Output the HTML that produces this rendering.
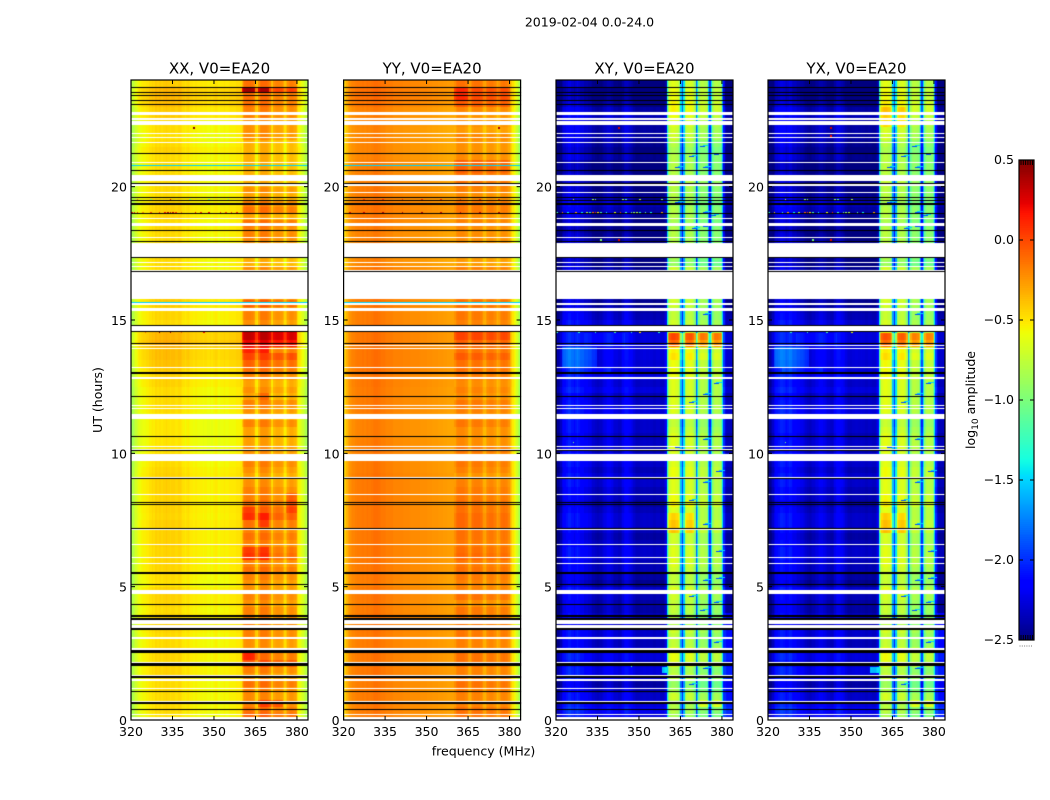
<!DOCTYPE html>
<html>
<head>
<meta charset="utf-8">
<title>2019-02-04 0.0-24.0</title>
<style>
html,body{margin:0;padding:0;background:#fff;}
#chart-root{position:relative;width:1050px;height:800px;overflow:hidden;background:#fff;}
#heatmap-canvas{position:absolute;left:0;top:0;}
#axes-svg{position:absolute;left:0;top:0;}
text{font-family:"DejaVu Sans","Liberation Sans",sans-serif;fill:#000;}
</style>
</head>
<body>
<div id="chart-root">
<canvas id="heatmap-canvas" width="1050" height="800"></canvas>
<svg id="axes-svg" width="1050" height="800" xmlns="http://www.w3.org/2000/svg">
<text x="589.5" y="26.5" font-size="12.55" text-anchor="middle">2019-02-04 0.0-24.0</text>
<text x="483.5" y="755.5" font-size="12.55" text-anchor="middle">frequency (MHz)</text>
<text x="0" y="0" font-size="12.55" text-anchor="middle" transform="translate(102,400) rotate(-90)">UT (hours)</text>
<text x="0" y="0" font-size="12.55" text-anchor="middle" transform="translate(975,400) rotate(-90)">log<tspan font-size="9" dy="3">10</tspan><tspan dy="-3"> amplitude</tspan></text>
</svg>
</div>
<script>
// ---------- chart data ----------
const freqTicks = [320, 335, 350, 365, 380];
const hourTicks = [0, 5, 10, 15, 20];
const colorTicks = [0.5, 0.0, -0.5, -1.0, -1.5, -2.0, -2.5];
const panelTitles = ["XX, V0=EA20", "YY, V0=EA20", "XY, V0=EA20", "YX, V0=EA20"];

// log10 amplitude per 0.5 MHz channel (320..383.5 MHz)
const xxProfile = [
-.88,-.82,-.76,-.70,-.66,-.62,-.60,-.58,-.57,-.56,
-.56,-.54,-.54,-.51,-.51,-.48,-.50,-.46,-.46,-.48,
-.46,-.46,-.48,-.46,-.46,-.44,-.46,-.46,-.48,-.46,
-.46,-.46,-.48,-.48,-.46,-.46,-.48,-.51,-.51,-.54,
-.51,-.50,-.52,-.54,-.54,-.56,-.54,-.54,-.56,-.56,
-.56,-.56,-.58,-.56,-.56,-.58,-.58,-.56,-.58,-.56,
-.56,-.54,-.56,-.58,-.56,-.56,-.56,-.54,-.56,-.56,
-.56,-.54,-.54,-.54,-.54,-.54,-.52,-.52,-.52,-.50,
-.45,-.30,-.24,-.22,-.22,-.22,-.22,-.24,-.26,-.30,
-.45,-.50,-.32,-.22,-.20,-.20,-.20,-.20,-.22,-.24,
-.28,-.45,-.48,-.32,-.30,-.28,-.28,-.28,-.30,-.32,
-.38,-.48,-.42,-.32,-.28,-.26,-.26,-.28,-.30,-.34,
-.48,-.56,-.60,-.64,-.68,-.74,-.80,-.88];
const yyProfile = [
-.50,-.42,-.34,-.28,-.24,-.22,-.20,-.20,-.18,-.18,
-.17,-.17,-.17,-.16,-.16,-.17,-.16,-.15,-.16,-.16,
-.15,-.14,-.13,-.13,-.13,-.14,-.15,-.16,-.16,-.16,
-.17,-.18,-.18,-.18,-.18,-.18,-.20,-.20,-.20,-.20,
-.20,-.20,-.20,-.21,-.21,-.21,-.21,-.21,-.22,-.22,
-.22,-.22,-.22,-.22,-.22,-.23,-.23,-.23,-.23,-.23,
-.24,-.24,-.24,-.24,-.25,-.25,-.25,-.25,-.26,-.26,
-.26,-.26,-.27,-.27,-.27,-.28,-.28,-.28,-.28,-.28,
-.26,-.20,-.18,-.17,-.17,-.17,-.17,-.18,-.20,-.22,
-.30,-.32,-.26,-.20,-.18,-.18,-.18,-.18,-.18,-.20,
-.24,-.32,-.34,-.26,-.22,-.20,-.20,-.20,-.22,-.24,
-.28,-.34,-.30,-.24,-.20,-.19,-.19,-.20,-.22,-.26,
-.34,-.42,-.50,-.56,-.60,-.68,-.78,-.88];
const xyProfile = [
-2.50,-2.50,-2.45,-2.38,-2.26,-2.20,-2.18,-2.13,-2.13,-2.08,
-2.08,-2.13,-2.13,-2.18,-2.13,-2.08,-2.13,-2.18,-2.18,-2.18,
-2.23,-2.23,-2.23,-2.26,-2.26,-2.28,-2.33,-2.33,-2.36,-2.36,
-2.38,-2.36,-2.36,-2.33,-2.30,-2.28,-2.26,-2.23,-2.23,-2.23,
-2.26,-2.30,-2.33,-2.33,-2.33,-2.36,-2.36,-2.33,-2.26,-2.20,
-2.18,-2.18,-2.20,-2.23,-2.26,-2.28,-2.33,-2.36,-2.38,-2.38,
-2.38,-2.36,-2.36,-2.35,-2.35,-2.36,-2.36,-2.35,-2.36,-2.36,
-2.38,-2.38,-2.36,-2.36,-2.36,-2.38,-2.38,-2.38,-2.33,-2.25,
-1.40,-.95,-.74,-.70,-.68,-.68,-.70,-.72,-.76,-.95,
-1.60,-2.00,-1.50,-.88,-.76,-.74,-.72,-.72,-.76,-.80,
-.95,-1.90,-1.50,-.98,-.86,-.84,-.84,-.86,-.88,-.96,
-1.60,-2.00,-1.50,-.98,-.86,-.84,-.84,-.86,-.88,-1.00,
-1.50,-2.05,-2.30,-2.38,-2.40,-2.40,-2.40,-2.42];
const yxProfile = [
-2.50,-2.50,-2.44,-2.36,-2.26,-2.18,-2.16,-2.13,-2.13,-2.08,
-2.08,-2.10,-2.13,-2.16,-2.13,-2.08,-2.10,-2.16,-2.18,-2.18,
-2.20,-2.23,-2.23,-2.26,-2.26,-2.28,-2.30,-2.33,-2.36,-2.36,
-2.38,-2.36,-2.33,-2.33,-2.30,-2.28,-2.26,-2.23,-2.23,-2.23,
-2.26,-2.28,-2.30,-2.33,-2.33,-2.36,-2.36,-2.33,-2.26,-2.20,
-2.18,-2.18,-2.20,-2.23,-2.26,-2.28,-2.33,-2.36,-2.38,-2.38,
-2.38,-2.36,-2.36,-2.35,-2.35,-2.36,-2.36,-2.35,-2.36,-2.36,
-2.38,-2.38,-2.36,-2.36,-2.36,-2.38,-2.38,-2.38,-2.33,-2.25,
-1.40,-.92,-.72,-.68,-.66,-.66,-.68,-.70,-.74,-.92,
-1.60,-2.00,-1.50,-.86,-.74,-.72,-.70,-.70,-.74,-.78,
-.95,-1.90,-1.50,-.96,-.84,-.82,-.82,-.84,-.86,-.96,
-1.60,-2.00,-1.50,-.96,-.84,-.82,-.82,-.84,-.86,-1.00,
-1.50,-2.05,-2.30,-2.38,-2.40,-2.40,-2.40,-2.42];

// per 0.25 h level changes; rows start at 0 h, four values for each hour
const xxLowRows = [
-.02,0,0,0, 0,0,.02,.02, 0,.02,.02,0, 0,.02,.02,.02,
0,.02,.03,.02, -.02,0,.02,.02, .02,.02,.03,.03, .03,.04,.02,.03,
.03,.02,.03,.03, .03,.02,0,0, -.02,-.03,-.03,-.03, -.03,-.03,0,0,
0,0,.03,.03, .05,.08,.10,.10, .15,.12,.12,0, .02,.02,.05,.05,
0,0,0,0, 0,.02,0,0, 0,.02,0,.02, .03,.02,0,0,
0,0,0,0, 0,.03,0,-.02, 0,0,.05,.05, .10,.12,.12,.05];
const xxBandRows = [
.15,.10,.05,.02, .05,.10,0,.05, .20,.10,0,0, .05,.05,.05,.05,
.05,0,.05,0, 0,.05,.10,.05, .15,.12,.05,.10, .05,.10,.20,.15,
.10,.05,.05,0, -.05,0,.05,0, 0,-.05,-.05,-.05, .05,-.05,0,.05,
-.05,0,-.05,.05, .10,.15,.25,.10, .45,.55,.55,0, .05,.05,.15,.05,
0,0,0,0, -.10,-.10,0,0, .05,.05,.10,-.05, .10,.05,-.05,0,
-.10,-.10,-.10,-.10, -.10,-.10,-.10,0, 0,0,.05,.05, .10,.10,.30,.10];
const yyLowRows = [
0,0,0,0, 0,0,.01,.01, 0,.01,.01,0, 0,.01,.01,.01,
0,0,.01,0, -.01,0,.01,.01, .01,.01,.01,.01, .01,.01,.01,.01,
.01,.01,.01,.01, .01,0,0,0, 0,-.01,-.02,-.02, -.02,-.02,0,0,
0,0,.01,.01, .02,.02,.02,.02, .02,.02,.02,0, 0,0,.01,.01,
0,0,0,0, -.03,-.03,-.02,-.02, -.02,-.01,0,0, .01,.01,0,0,
-.01,-.01,-.01,-.01, -.03,-.03,-.03,-.03, -.04,-.03,-.02,-.02, .02,.04,.04,.02];
const yyBandRows = [
.05,.05,0,0, .03,.05,0,0, .05,.05,0,0, .03,.03,.03,.03,
.03,-.03,.05,0, 0,.03,.05,.03, .08,.06,.03,.05, .05,.08,.08,.05,
.05,.03,.03,0, -.05,0,.03,0, .03,-.03,-.03,-.03, .03,-.03,0,.03,
-.03,0,-.03,.03, .05,.05,.12,.05, .10,.20,.20,0, .03,.03,.05,.03,
0,0,0,0, -.08,-.08,-.05,-.05, -.03,-.03,0,-.03, .03,.03,-.03,0,
.05,.05,.10,.10, -.03,-.05,-.05,-.02, -.08,-.05,-.05,-.02, .12,.18,.18,.05];
const crossLowRows = [
.10,.15,.10,.05, 0,-.05,.10,.10, .05,.10,.05,0, .05,.05,0,0,
-.05,-.05,0,.05, -.10,-.05,0,0, .05,.05,0,-.05, 0,.05,.05,0,
-.05,0,0,.05, .05,0,.05,.05, 0,.05,0,.05, .05,.10,.10,.05,
0,.10,.05,.10, .08,.08,.10,.10, .10,.10,.10,.05, 0,-.05,-.10,-.10,
-.10,-.10,-.10,-.10, -.15,-.15,-.15,-.10, -.15,-.20,-.15,-.10, -.05,0,-.10,-.15,
-.15,-.15,-.20,-.20, -.10,-.15,-.10,-.05, -.05,-.05,0,-.05, -.15,-.20,-.25,-.15];
const crossBandRows = [
-.15,-.10,-.10,0, -.15,-.20,-.05,-.10, .05,.10,.05,-.05, -.05,0,-.10,-.10,
-.05,-.05,0,.05, -.05,-.05,0,.05, .05,.05,0,0, .10,.10,.05,.05,
.15,.10,.05,.05, .10,.10,.05,0, .05,.05,.05,0, -.05,0,.05,.05,
.05,.05,.05,.10, .10,.10,.20,.15, .15,.15,.10,0, -.05,-.05,0,0,
0,0,0,0, -.20,-.15,-.10,-.10, -.10,-.10,-.15,-.10, -.10,-.15,-.10,-.10,
-.05,-.10,-.10,-.10, -.10,-.15,-.10,0, 0,.05,.10,.15, .15,.10,.10,.05];

// local changes: start hour, end hour, start MHz, end MHz, level change
const xxPatches = [[13.45,13.6,376,380,.25],[13.75,13.9,360,370,.25],[12.05,12.3,365,370,.15],[7.45,8.1,360,365,.12],[7.2,7.8,366,370,.15],[7.8,8.4,376,380,.15],[5.9,6.55,360,370,.15],[2.2,2.5,360,366,.25],[0.4,0.75,366,375,.2],[23.4,23.7,360,365,.35],[23.4,23.7,366,370,.3]];
const yyPatches = [[13.4,13.6,376,380,.12],[23.3,23.7,360,365,.1]];
const xyPatches = [[13.25,14.0,322,335,.25],[12.9,13.25,325,340,.12],[14,14.55,330,345,.1],[14.05,14.25,360.4,380,.45],[14.3,14.5,360.4,380,.55],[13.4,13.6,360,365,.35],[13.4,13.6,376,380,.55],[0,4,381,384,.25],[0.5,0.8,371,380,.3],[7.0,7.8,360,370,.2],[1.8,2.0,358.5,360,.7]];
const yxPatches = [[13.25,14.0,322,335,.25],[12.9,13.25,325,340,.12],[14,14.55,330,345,.1],[14.05,14.25,360.4,380,.42],[14.3,14.5,360.4,380,.5],[13.4,13.6,376,380,.7],[0,4,381,384,.25],[0.5,0.8,371,380,.3],[7.0,7.8,360,370,.2],[1.8,2.0,357,360,.7],[22.3,23,360,370,.15]];

// diagonal low-level streaks in the cross-hand bands: hour, MHz
const crossStreaks = [[1.3,368],[1.9,373],[2.9,377],[4.1,372],[4.4,377],[4.6,368],[5.2,373],[5.3,378],[6.3,378],[7.3,373],[8.2,368],[8.9,373],[9.3,378],[10.2,363],[10.5,373],[11.9,368],[12.2,373],[12.6,377],[15.2,373],[18.4,369],[18.5,373],[18.9,376],[19.4,363],[19.0,373],[20.7,363],[20.7,373],[21.1,368],[21.2,377],[21.5,372]];

// isolated bright channels: hour, MHz, log10 amplitude
const xxSpots = [[19.02,320,.2],[19.02,321,.2],[19.02,322,.1],[19.02,324,-.2],[19.02,327,0],[19.02,330,.1],[19.02,332,.2],[19.02,333,.35],[19.02,334,.35],[19.02,335,.3],[19.02,336,.1],[19.02,338,-.1],[19.02,343,.2],[19.02,345,.1],[19.02,348,.2],[19.02,352,.1],[19.02,354,0],[19.02,356,.1],[19.02,358,.1],[19.5,322,-.2],[19.5,327,-.9],[19.5,334,.2],[19.5,341,-.9],[19.5,348,-1],[19.5,355,-.9],[9.06,320,.2],[9.06,321,.2],[9.06,325,.3],[9.06,329,.3],[9.06,330,.3],[9.06,334,.35],[9.06,338,.2],[9.06,342,.35],[9.06,345,-.1],[14.53,325,-.1],[14.53,330,.45],[14.53,334,.4],[14.53,338,-.1],[14.53,346,.2],[22.2,342.5,.5],[21.85,342.5,.4]];
const yySpots = [[19.02,322,.25],[19.02,327,.3],[19.02,334,.35],[19.02,341,.35],[19.02,348,.35],[19.02,355,.3],[19.02,362,.3],[19.02,369,.3],[19.02,376,.3],[19.5,327,.1],[19.5,334,.1],[19.5,341,.1],[19.5,348,.1],[19.5,355,.1],[19.5,362,.1],[19.5,369,.1],[19.5,376,.1],[22.2,376,.4]];
const xySpots = [[19.02,320,-1.2],[19.02,322,-.2],[19.02,324,-1.4],[19.02,327,-.3],[19.02,329,-1.4],[19.02,331,-.8],[19.02,332,-1.3],[19.02,333,-.1],[19.02,334,.1],[19.02,335,-.5],[19.02,336,-1.2],[19.02,338,-1.4],[19.02,341,-.6],[19.02,343,0],[19.02,345,-1.2],[19.02,347,-1],[19.02,348,-.9],[19.02,349,-.8],[19.02,350,-1.3],[19.02,352,-1.1],[19.02,354,-1.4],[19.02,358,-.3],[19.5,326,-.8],[19.5,333,-.9],[19.5,334,-.9],[19.5,344,-.9],[19.5,345,-1.1],[19.5,350,-.8],[19.5,358,-1],[14.53,320,-1.3],[14.53,328,-1.3],[14.53,334,-1.3],[14.53,341,-1.2],[14.53,347,-1.3],[14.53,350,-.5],[14.53,357,-1.3],[18,336,-1],[18,342.5,.25],[22.2,342.5,.3],[9.08,327,-1],[9.08,333,-1.1],[9.08,349,-.9],[10.4,326,-1.0],[2.0,347,-1.2]];
const yxSpots = [[19.02,320,-1.3],[19.02,322,-.4],[19.02,325,-1.2],[19.02,327,-.3],[19.02,329,-1.4],[19.02,331,-.8],[19.02,333,-.1],[19.02,334,.1],[19.02,335,-.5],[19.02,336,-1.2],[19.02,338,-1.4],[19.02,341,-.6],[19.02,343,.1],[19.02,345,-1.2],[19.02,347,-1],[19.02,348,-.9],[19.02,349,-.8],[19.02,352,-1.1],[19.02,354,-1.4],[19.02,358,-.3],[19.5,326,-.8],[19.5,333,-.9],[19.5,334,-.9],[19.5,344,-.9],[19.5,345,-1.1],[19.5,350,-.8],[14.53,328,-1.3],[14.53,334,-1.3],[14.53,341,-1.2],[14.53,350,-.6],[18,336,-1],[18,342.5,.25],[22.2,342.5,.3],[21.9,342.5,.2],[20.4,327,-1.3],[9.08,327,-1],[10.4,326,-1.0]];

// rows where the parallel hands dip to low amplitude: hour, log10 amplitude
const dimRows = [[20.76,-1.5],[15.62,-1.5],[15.42,-1.25],[19.46,-1.1]];

// flagged rows (white, no data): start hour, end hour
const whiteRows = [
[22.69,22.81],[22.51,22.59],[22.31,22.46],[21.96,22.00],[21.81,21.86],[21.64,21.69],[20.87,20.91],[20.37,20.44],[20.21,20.36],[20.04,20.09],
[19.77,19.81],[18.77,18.81],[18.51,18.65],[18.06,18.11],[17.36,17.90],[17.15,17.19],[16.98,17.01],[16.85,16.89],[15.79,16.80],[15.57,15.64],
[15.35,15.44],[14.59,14.78],[14.03,14.06],[13.91,13.95],[13.19,13.23],[12.80,12.85],[11.76,11.80],[11.66,11.70],[11.29,11.46],[10.25,10.29],
[10.13,10.16],[9.71,9.99],[9.08,9.10],[8.44,8.46],[7.13,7.16],[6.56,6.60],[6.08,6.11],[5.85,5.89],[4.73,4.88],[3.60,3.75],
[3.44,3.55],[3.08,3.12],[3.02,3.06],[2.625,2.69],[2.145,2.18],[1.65,1.69],[1.47,1.55],[1.155,1.19],[0.675,0.71],[0.18,0.225],[0,0.13]];
// rows drawn black: start hour, end hour
const blackRows = [
[23.70,23.74],[23.52,23.56],[23.41,23.45],[23.22,23.26],[23.07,23.11],[21.23,21.27],[20.59,20.63],[20.11,20.15],[19.56,19.60],[19.47,19.51],
[19.33,19.37],[18.98,19.00],[18.34,18.38],[17.91,17.95],[17.33,17.37],[16.81,16.85],[14.78,14.82],[14.54,14.58],[14.11,14.15],[12.98,13.04],
[12.12,12.16],[10.62,10.66],[10.07,10.11],[9.06,9.08],[8.15,8.17],[8.09,8.11],[7.17,7.21],[5.54,5.56],[5.49,5.51],[5.07,5.11],
[4.32,4.36],[3.88,3.92],[3.75,3.84],[3.375,3.44],[2.52,2.625],[2.04,2.13],[1.575,1.65],[1.06,1.10],[0.60,0.66],[0.39,0.43]];

// ---------- scales ----------
const plotTop = 80, plotBottom = 720, plotWidth = 177;
const panelLefts = [131, 343.6, 556, 768];
const panelProfiles = [xxProfile, yyProfile, xyProfile, yxProfile];
const panelLow = [xxLowRows, yyLowRows, crossLowRows, crossLowRows];
const panelBand = [xxBandRows, yyBandRows, crossBandRows, crossBandRows];
const panelPatches = [xxPatches, yyPatches, xyPatches, yxPatches];
const panelSpots = [xxSpots, yySpots, xySpots, yxSpots];
const cbLeft = 1019, cbRight = 1034, cbTop = 160, cbBottom = 640;
const SVGNS = "http://www.w3.org/2000/svg";

function xScale(panel, mhz) { return panelLefts[panel] + (mhz - 320) * plotWidth / 64; }
function yScale(hour) { return plotBottom - hour * (plotBottom - plotTop) / 24; }
function cbScale(v) { return cbBottom - (v + 2.5) * (cbBottom - cbTop) / 3; }
function clamp01(v) { return Math.max(0, Math.min(1, v)); }
function jet(v) {
  const t = clamp01((v + 2.5) / 3);
  const r = clamp01(t < .35 ? 0 : t < .66 ? (t - .35) / .31 : t < .89 ? 1 : 1 - (t - .89) / .11 * .5);
  const g = clamp01(t < .125 ? 0 : t < .375 ? (t - .125) / .25 : t < .64 ? 1 : t < .91 ? 1 - (t - .64) / .27 : 0);
  const b = clamp01(t < .11 ? .5 + t / .11 * .5 : t < .34 ? 1 : t < .65 ? 1 - (t - .34) / .31 : 0);
  return "rgb(" + Math.round(r * 255) + "," + Math.round(g * 255) + "," + Math.round(b * 255) + ")";
}

// ---------- heatmaps ----------
const ctx = document.getElementById("heatmap-canvas").getContext("2d");
function fillBand(panel, f0, f1, h0, h1, color) {
  const x0 = Math.round(xScale(panel, f0)), x1 = Math.round(xScale(panel, f1));
  const y0 = Math.round(yScale(h1));
  const y1 = Math.max(y0 + 1, Math.round(yScale(h0)));
  ctx.fillStyle = color;
  ctx.fillRect(x0, y0, Math.max(1, x1 - x0), y1 - y0);
}
function drawPanel(panel) {
  const profile = panelProfiles[panel];
  const low = panelLow[panel], band = panelBand[panel], patches = panelPatches[panel];
  const cross = panel >= 2;
  for (let r = 0; r < low.length; r++) {
    const h0 = r * 0.25, h1 = h0 + 0.25;
    for (let c = 0; c < profile.length; c++) {
      const f0 = 320 + c * 0.5, f1 = f0 + 0.5;
      let v = profile[c] + ((f0 >= 360 && f0 < 380) ? band[r] : low[r]);
      for (const p of patches) {
        if (h0 + .12 >= p[0] && h0 + .12 < p[1] && f0 >= p[2] && f0 < p[3]) v += p[4];
      }
      fillBand(panel, f0, f1, h0, h1, jet(v));
    }
  }
  if (cross) {
    for (const s of crossStreaks) {
      fillBand(panel, s[1], s[1] + 2, s[0], s[0] + 0.04, jet(-1.9));
      fillBand(panel, s[1] + 1, s[1] + 3, s[0] + 0.04, s[0] + 0.08, jet(-1.5));
    }
  } else {
    for (const d of dimRows) fillBand(panel, 320, 384, d[0], d[0] + 0.04, jet(d[1]));
  }
  for (const s of panelSpots[panel]) fillBand(panel, s[1], s[1] + 0.6, s[0] - 0.03, s[0] + 0.03, jet(s[2]));
  for (const w of whiteRows) fillBand(panel, 320, 384, w[0], w[1], "#ffffff");
  for (const b of blackRows) fillBand(panel, 320, 384, b[0], b[1], "#000000");
}
for (let p = 0; p < panelLefts.length; p++) drawPanel(p);

// colorbar fill
for (let i = 0; i < 256; i++) {
  const v0 = -2.5 + i * 3 / 256, v1 = -2.5 + (i + 1) * 3 / 256;
  ctx.fillStyle = jet((v0 + v1) / 2);
  const y0 = Math.floor(cbScale(v1));
  ctx.fillRect(cbLeft, y0, cbRight - cbLeft, Math.ceil(cbScale(v0)) - y0);
}

// ---------- axes ----------
const svg = document.getElementById("axes-svg");
function line(x1, y1, x2, y2, color) {
  const el = document.createElementNS(SVGNS, "line");
  el.setAttribute("x1", x1);
  el.setAttribute("y1", y1);
  el.setAttribute("x2", x2);
  el.setAttribute("y2", y2);
  el.setAttribute("stroke", color || "#000");
  el.setAttribute("stroke-width", "1");
  svg.appendChild(el);
  return el;
}
function label(x, y, anchor, size, str) {
  const el = document.createElementNS(SVGNS, "text");
  el.setAttribute("x", x);
  el.setAttribute("y", y);
  el.setAttribute("text-anchor", anchor);
  el.setAttribute("font-size", size);
  el.textContent = str;
  svg.appendChild(el);
  return el;
}
panelLefts.forEach(function (left, p) {
  const frame = document.createElementNS(SVGNS, "rect");
  frame.setAttribute("x", left);
  frame.setAttribute("y", plotTop);
  frame.setAttribute("width", plotWidth);
  frame.setAttribute("height", plotBottom - plotTop);
  frame.setAttribute("fill", "none");
  frame.setAttribute("stroke", "#000");
  frame.setAttribute("stroke-width", "1.2");
  
  
  svg.appendChild(frame);

  const title = label(left + plotWidth / 2, 73.5, "middle", 15, panelTitles[p]);
  
  

  freqTicks.forEach(function (f) {
    const x = xScale(p, f);
    const tickBottom = line(x, plotBottom, x, plotBottom - 4);
    
    
    const tickTop = line(x, plotTop, x, plotTop + 4);
    
    
    const t = label(x, 736, "middle", 12.55, String(f));
    
    
  });
  hourTicks.forEach(function (h) {
    const y = yScale(h);
    const tickLeft = line(left, y, left + 4, y);
    
    
    const tickRight = line(left + plotWidth, y, left + plotWidth - 4, y);
    
    
    const t = label(left - 4, y + 5, "end", 12.55, String(h));
    
    
  });
});

// colorbar outline, ticks, labels
const cbFrame = document.createElementNS(SVGNS, "rect");
cbFrame.setAttribute("x", cbLeft);
cbFrame.setAttribute("y", cbTop);
cbFrame.setAttribute("width", cbRight - cbLeft);
cbFrame.setAttribute("height", cbBottom - cbTop);
cbFrame.setAttribute("fill", "none");
cbFrame.setAttribute("stroke", "#000");
cbFrame.setAttribute("stroke-width", "1.2");


svg.appendChild(cbFrame);
colorTicks.forEach(function (v) {
  const y = cbScale(v);
  const tl = line(cbLeft, y, cbLeft + 4, y);
  
  
  const tr = line(cbRight, y, cbRight - 4, y);
  
  
  const t = label(cbLeft - 5, y + 4, "end", 12.55, (v < 0 ? "\u2212" : "") + Math.abs(v).toFixed(1));
  
  
});
for (let i = 0; i < 6; i++) {
  const x = cbLeft + 2 + i * 2.3;
  const a = line(x, cbTop, x, cbTop + 5);
  
  
  const b = line(x, cbBottom, x, cbBottom - 5);
  
  
  const dot = line(x - 1.5, 646, x - 0.5, 646, "#777");
  
  
}
</script>
</body>
</html>
